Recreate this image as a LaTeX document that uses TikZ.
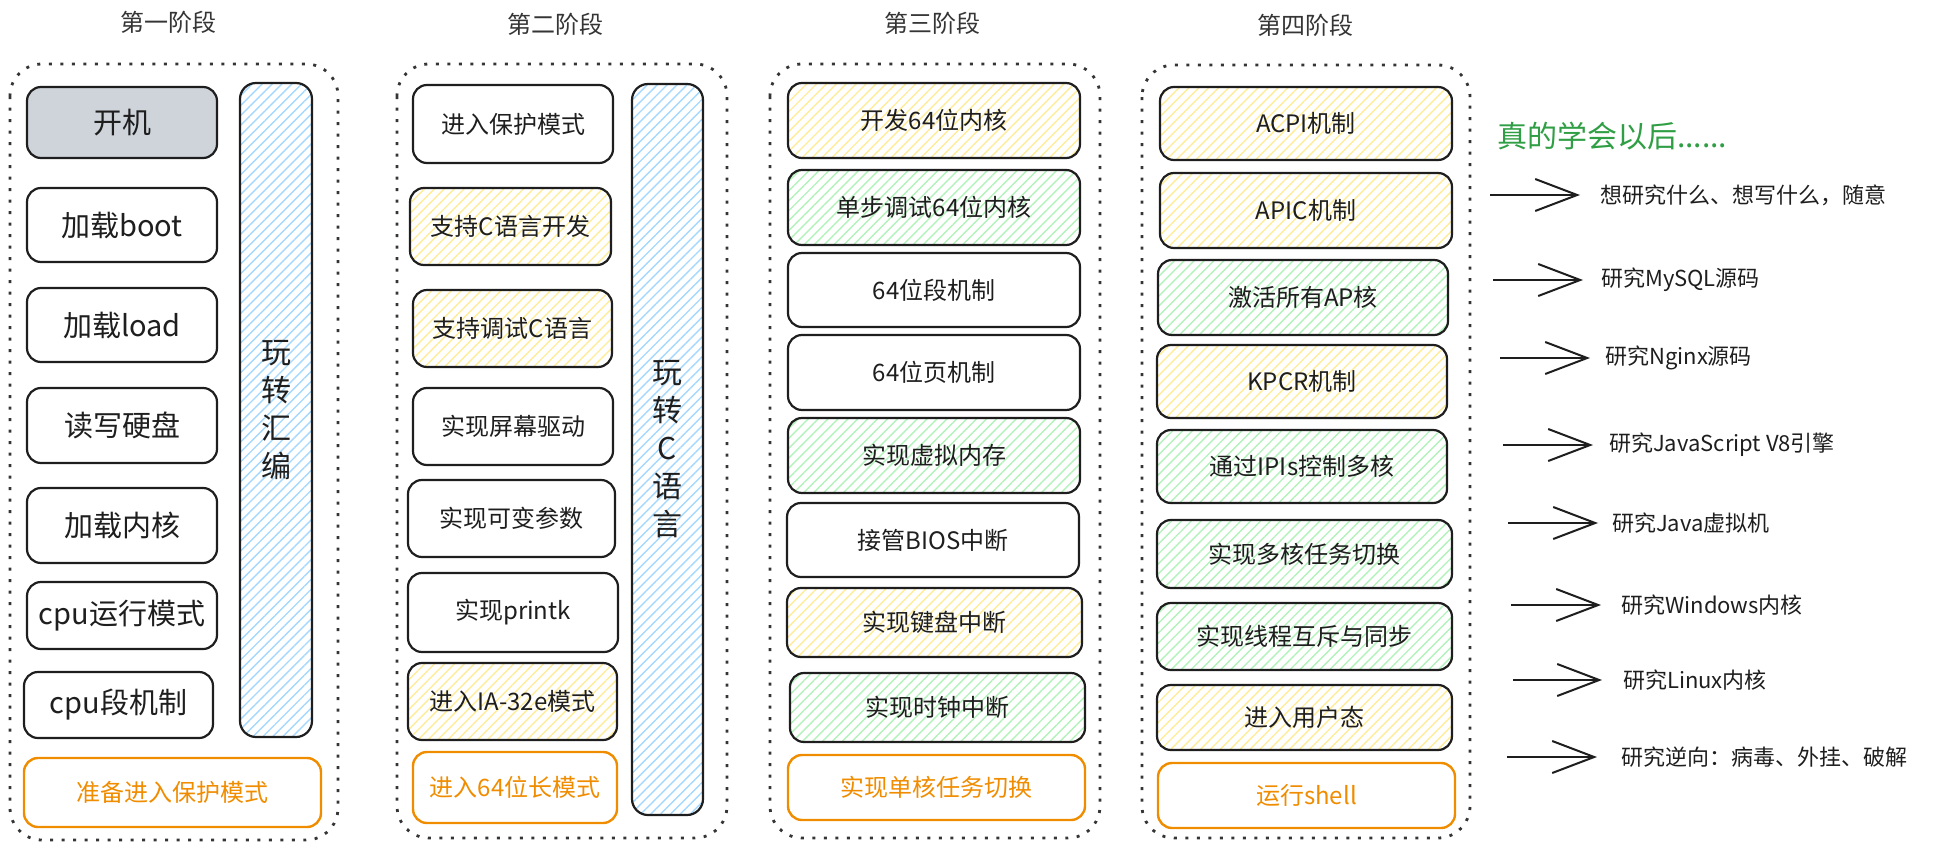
\documentclass[tikz,border=0pt]{standalone}
\usepackage{fontspec}
\setmainfont{Noto Sans CJK SC}
\usetikzlibrary{arrows.meta,patterns.meta}
\definecolor{ink}{HTML}{1E1E1E}
\definecolor{greyfill}{HTML}{CED4DA}
\definecolor{hatchY}{HTML}{FFEC99}
\definecolor{hatchG}{HTML}{B2F2BB}
\definecolor{hatchB}{HTML}{A5D8FF}
\definecolor{goalorange}{HTML}{F08C00}
\definecolor{goodgreen}{HTML}{2F9E44}
\begin{document}
\begin{tikzpicture}[x=1pt,y=-1pt,
  stage/.style={draw=ink!90, line width=2.8pt, dash pattern=on 3pt off 8.5pt, rounded corners=32pt},
  box/.style={draw=ink, line width=2.2pt, rounded corners=14pt, text=ink, inner sep=0pt, font=\fontsize{24}{28}\selectfont},
  bigbox/.style={box, font=\fontsize{29}{34}\selectfont},
  greybox/.style={fill=greyfill},
  ylw/.style={pattern={Lines[angle=45,distance=7pt,line width=1.4pt]}, pattern color=hatchY},
  grn/.style={pattern={Lines[angle=45,distance=7pt,line width=1.4pt]}, pattern color=hatchG},
  bar/.style={draw=ink, line width=2.2pt, rounded corners=16pt, pattern={Lines[angle=45,distance=7pt,line width=1.4pt]}, pattern color=hatchB, text=ink, align=center, font=\fontsize{30}{38}\selectfont},
  goal/.style={draw=goalorange, line width=2.4pt, rounded corners=14pt, text=goalorange, inner sep=0pt, font=\fontsize{24}{28}\selectfont},
  stitle/.style={font=\fontsize{24}{28}\selectfont, text=ink!90},
  res/.style={anchor=west, inner sep=0pt, font=\fontsize{22}{26}\selectfont, text=ink},
  arr/.style={draw=ink, line width=2pt, -{Straight Barb[length=42pt,width=32pt]}}
]
\useasboundingbox (0,0) rectangle (1949,851);

% ---------- stage 1 ----------
\node[stitle] (t1) at (168,22) {第一阶段};
\draw[stage] (10,64) rectangle (338,840);
\node[bigbox,greybox,minimum width=190,minimum height=71] (a1) at (122,122.5) {开机};
\node[bigbox,minimum width=190,minimum height=74] (a2) at (122,225) {加载boot};
\node[bigbox,minimum width=190,minimum height=74] (a3) at (122,325) {加载load};
\node[bigbox,minimum width=190,minimum height=75] (a4) at (122,425.5) {读写硬盘};
\node[bigbox,minimum width=190,minimum height=75] (a5) at (122,525.5) {加载内核};
\node[bigbox,minimum width=190,minimum height=67] (a6) at (122,615.5) {cpu运行模式};
\node[bigbox,minimum width=189,minimum height=66] (a7) at (118.5,705) {cpu段机制};
\node[bar,minimum width=72,minimum height=654] (b1) at (276,410) {玩\\转\\汇\\编};
\node[goal,minimum width=297,minimum height=69] (g1) at (172.5,792.5) {准备进入保护模式};

% ---------- stage 2 ----------
\node[stitle] (t2) at (555,24) {第二阶段};
\draw[stage] (397,64) rectangle (727,838);
\node[box,minimum width=200,minimum height=78] (c1) at (513,124) {进入保护模式};
\node[box,ylw,minimum width=201,minimum height=77] (c2) at (510.5,226.5) {支持C语言开发};
\node[box,ylw,minimum width=199,minimum height=77] (c3) at (512.5,328.5) {支持调试C语言};
\node[box,minimum width=200,minimum height=77] (c4) at (513,426.5) {实现屏幕驱动};
\node[box,minimum width=207,minimum height=77] (c5) at (511.5,518.5) {实现可变参数};
\node[box,minimum width=210,minimum height=79] (c6) at (513,612.5) {实现printk};
\node[box,ylw,minimum width=209,minimum height=77] (c7) at (512.5,701.5) {进入IA-32e模式};
\node[bar,minimum width=71,minimum height=731] (b2) at (667.5,449.5) {玩\\转\\C\\语\\言};
\node[goal,minimum width=204,minimum height=71] (g2) at (515,787.5) {进入64位长模式};

% ---------- stage 3 ----------
\node[stitle] (t3) at (932,23) {第三阶段};
\draw[stage] (770,64) rectangle (1100,838);
\node[box,ylw,minimum width=292,minimum height=75] (d1) at (934,120.5) {开发64位内核};
\node[box,grn,minimum width=292,minimum height=75] (d2) at (934,207.5) {单步调试64位内核};
\node[box,minimum width=292,minimum height=74] (d3) at (934,290) {64位段机制};
\node[box,minimum width=292,minimum height=75] (d4) at (934,372.5) {64位页机制};
\node[box,grn,minimum width=292,minimum height=75] (d5) at (934,455.5) {实现虚拟内存};
\node[box,minimum width=292,minimum height=74] (d6) at (933,540) {接管BIOS中断};
\node[box,ylw,minimum width=295,minimum height=69] (d7) at (934.5,622.5) {实现键盘中断};
\node[box,grn,minimum width=295,minimum height=69] (d8) at (937.5,707.5) {实现时钟中断};
\node[goal,minimum width=297,minimum height=65] (g3) at (936.5,787.5) {实现单核任务切换};

% ---------- stage 4 ----------
\node[stitle] (t4) at (1305,25) {第四阶段};
\draw[stage] (1142,65) rectangle (1470,838);
\node[box,ylw,minimum width=292,minimum height=73] (e1) at (1306,123.5) {ACPI机制};
\node[box,ylw,minimum width=292,minimum height=75] (e2) at (1306,210.5) {APIC机制};
\node[box,grn,minimum width=290,minimum height=75] (e3) at (1303,297.5) {激活所有AP核};
\node[box,ylw,minimum width=290,minimum height=73] (e4) at (1302,381.5) {KPCR机制};
\node[box,grn,minimum width=290,minimum height=73] (e5) at (1302,466.5) {通过IPIs控制多核};
\node[box,grn,minimum width=295,minimum height=68] (e6) at (1304.5,554) {实现多核任务切换};
\node[box,grn,minimum width=295,minimum height=67] (e7) at (1304.5,636.5) {实现线程互斥与同步};
\node[box,ylw,minimum width=295,minimum height=65] (e8) at (1304.5,717.5) {进入用户态};
\node[goal,minimum width=297,minimum height=65] (g4) at (1306.5,795.5) {运行shell};

% ---------- afterwards ----------
\node[anchor=west,inner sep=0pt,text=goodgreen,font=\fontsize{30}{34}\selectfont] (after) at (1497,136) {真的学会以后......};

\node[res] (r1) at (1600,195) {想研究什么、想写什么，随意};
\node[res] (r2) at (1601,280) {研究MySQL源码};
\node[res] (r3) at (1605,358) {研究Nginx源码};
\node[res] (r4) at (1609,445) {研究JavaScript V8引擎};
\node[res] (r5) at (1612,523) {研究Java虚拟机};
\node[res] (r6) at (1621,605) {研究Windows内核};
\node[res] (r7) at (1623,680) {研究Linux内核};
\node[res] (r8) at (1621,757) {研究逆向：病毒、外挂、破解};

\coordinate (s1) at (1490,195);
\coordinate (s2) at (1493,280);
\coordinate (s3) at (1500,358);
\coordinate (s4) at (1503,445);
\coordinate (s5) at (1508,523);
\coordinate (s6) at (1511,605);
\coordinate (s7) at (1513,680);
\coordinate (s8) at (1507,757);

\draw[arr] (s1) -- ([xshift=-20pt]r1.west);
\draw[arr] (s2) -- ([xshift=-18pt]r2.west);
\draw[arr] (s3) -- ([xshift=-15pt]r3.west);
\draw[arr] (s4) -- ([xshift=-16pt]r4.west);
\draw[arr] (s5) -- ([xshift=-14pt]r5.west);
\draw[arr] (s6) -- ([xshift=-20pt]r6.west);
\draw[arr] (s7) -- ([xshift=-21pt]r7.west);
\draw[arr] (s8) -- ([xshift=-24pt]r8.west);
\end{tikzpicture}
\end{document}
